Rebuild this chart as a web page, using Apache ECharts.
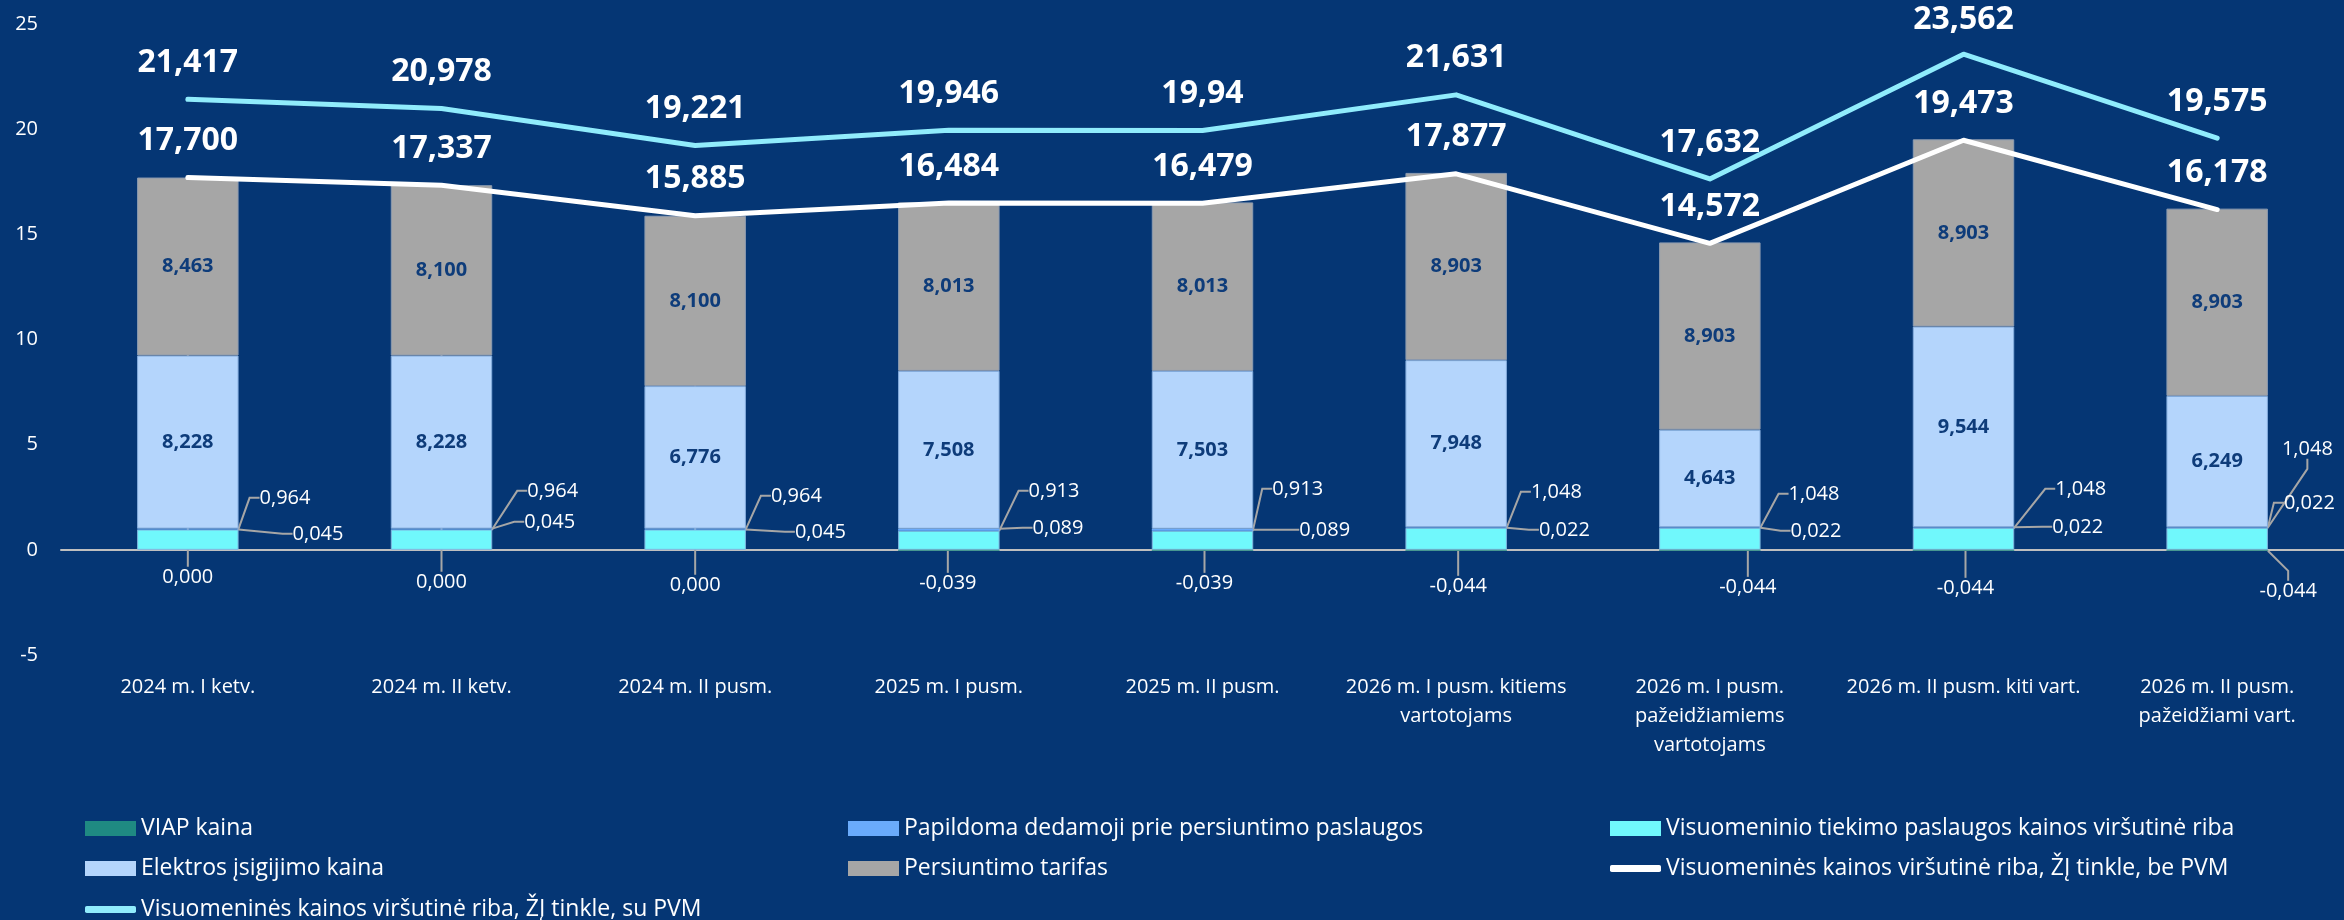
<!DOCTYPE html>
<html>
<head>
<meta charset="utf-8">
<script src="https://cdn.jsdelivr.net/npm/echarts@6/dist/echarts.min.js"></script>
<style>
html,body{margin:0;padding:0;background:#053674;}
#c{width:2344px;height:920px;}
</style>
</head>
<body>
<div id="c"></div>
<script>
// ---- data ----
const categories = [
  '2024 m. I ketv.',
  '2024 m. II ketv.',
  '2024 m. II pusm.',
  '2025 m. I pusm.',
  '2025 m. II pusm.',
  '2026 m. I pusm. kitiems\nvartotojams',
  '2026 m. I pusm.\npažeidžiamiems\nvartotojams',
  '2026 m. II pusm. kiti vart.',
  '2026 m. II pusm.\npažeidžiami vart.'
];
const viapKaina = [0.000, 0.000, 0.000, -0.039, -0.039, -0.044, -0.044, -0.044, -0.044];
const papildomaDedamoji = [0.045, 0.045, 0.045, 0.089, 0.089, 0.022, 0.022, 0.022, 0.022];
const tiekimoRiba = [0.964, 0.964, 0.964, 0.913, 0.913, 1.048, 1.048, 1.048, 1.048];
const elektrosKaina = [8.228, 8.228, 6.776, 7.508, 7.503, 7.948, 4.643, 9.544, 6.249];
const persiuntimoTarifas = [8.463, 8.100, 8.100, 8.013, 8.013, 8.903, 8.903, 8.903, 8.903];
const ribaBePVM = [17.700, 17.337, 15.885, 16.484, 16.479, 17.877, 14.572, 19.473, 16.178];
const ribaSuPVM = [21.417, 20.978, 19.221, 19.946, 19.94, 21.631, 17.632, 23.562, 19.575];
const yTicks = {min: -5, max: 25, interval: 5};

// ---- label placement (styling, px offsets) ----
const tiekDX = [21, 35, 25, 29, 19, 24, 28, 41, 14];
const tiekDY = [-52, -59, -54, -59, -61, -58, -56, -61, -101];
const papDX = [54, 32, 49, 33, 46, 32, 30, 38, 16];
const papDY = [-16, -28, -18, -22, -20, -20, -19, -23, -47];
const viapDX = [0, 0, 0, -1, 2, 2, 38, 2, 71];
const viapDY = [27, 32, 35, 33, 33, 36, 37, 38, 41];

const FONT = 'Open Sans';
const GRID = {left: 61, top: 24, width: 2288, height: 631};
const zeroY = GRID.top + GRID.height * yTicks.max / (yTicks.max - yTicks.min);

const fmt3 = v => Number(v).toFixed(3).replace('.', ',');
const fmtGen = v => String(v).replace('.', ',');

const C = {
  viap: '#1F8A82',
  pap: '#6AABFB',
  tiek: '#70F8FC',
  elek: '#B4D5FC',
  pers: '#A6A6A6',
  be: '#FFFFFF',
  su: '#90ECFC'
};

const leader = {show: true, length2: 10, lineStyle: {color: '#A6A6A6', width: 2}};
const smallLabel = {show: true, color: '#FFFFFF', fontFamily: FONT, fontSize: 20};

const chart = echarts.init(document.getElementById('c'), null, {renderer: 'canvas'});

function legendAt(left, top, item) {
  return {
    left: left, top: top, orient: 'horizontal',
    itemWidth: 51, itemHeight: item.line ? 7 : 15,
    textStyle: {color: '#FFFFFF', fontFamily: FONT, fontSize: 23},
    selectedMode: false,
    itemStyle: {borderWidth: 0, borderColor: 'transparent'},
    lineStyle: {width: 0},
    data: [{name: item.name, icon: item.line ? 'roundRect' : 'rect',
      itemStyle: {color: item.color, borderWidth: 0, borderColor: 'transparent'}}]
  };
}

const names = {
  viap: 'VIAP kaina',
  pap: 'Papildoma dedamoji prie persiuntimo paslaugos',
  tiek: 'Visuomeninio tiekimo paslaugos kainos viršutinė riba',
  elek: 'Elektros įsigijimo kaina',
  pers: 'Persiuntimo tarifas',
  be: 'Visuomeninės kainos viršutinė riba, ŽĮ tinkle, be PVM',
  su: 'Visuomeninės kainos viršutinė riba, ŽĮ tinkle, su PVM'
};

const option = {
  backgroundColor: '#053674',
  animation: false,
  textStyle: {fontFamily: FONT},
  legend: [
    legendAt(80, 812, {name: names.viap, color: C.viap}),
    legendAt(843, 812, {name: names.pap, color: C.pap}),
    legendAt(1605, 812, {name: names.tiek, color: C.tiek}),
    legendAt(80, 852, {name: names.elek, color: C.elek}),
    legendAt(843, 852, {name: names.pers, color: C.pers}),
    legendAt(1605, 852, {name: names.be, color: C.be, line: true}),
    legendAt(80, 893, {name: names.su, color: C.su, line: true})
  ],
  grid: GRID,
  xAxis: [
    {
      type: 'category', data: categories,
      axisLine: {show: false, onZero: false},
      axisTick: {show: false},
      axisLabel: {color: '#FFFFFF', fontFamily: FONT, fontSize: 20, lineHeight: 29, margin: 18, interval: 0}
    },
    {
      type: 'category', data: categories, position: 'bottom',
      axisLine: {show: true, onZero: true, lineStyle: {color: '#BFBFBF', width: 2}},
      axisTick: {show: false},
      axisLabel: {show: false}
    }
  ],
  yAxis: {
    type: 'value', min: yTicks.min, max: yTicks.max, interval: yTicks.interval,
    axisLine: {show: false}, axisTick: {show: false}, splitLine: {show: false},
    axisLabel: {color: '#FFFFFF', fontFamily: FONT, fontSize: 20, margin: 23}
  },
  series: [
    {
      name: names.tiek, type: 'bar', stack: 's', data: tiekimoRiba, barWidth: '40%',
      itemStyle: {color: C.tiek, borderColor: '#7FB6E0', borderWidth: 1},
      label: Object.assign({}, smallLabel, {formatter: p => fmt3(p.value)}),
      labelLine: leader,
      labelLayout: p => ({x: p.rect.x + p.rect.width + tiekDX[p.dataIndex], y: zeroY + tiekDY[p.dataIndex], align: 'left', verticalAlign: 'middle'})
    },
    {
      name: names.pap, type: 'bar', stack: 's', data: papildomaDedamoji,
      itemStyle: {color: C.pap},
      label: Object.assign({}, smallLabel, {formatter: p => fmt3(p.value)}),
      labelLine: leader,
      labelLayout: p => ({x: p.rect.x + p.rect.width + papDX[p.dataIndex], y: zeroY + papDY[p.dataIndex], align: 'left', verticalAlign: 'middle'})
    },
    {
      name: names.elek, type: 'bar', stack: 's', data: elektrosKaina,
      itemStyle: {color: C.elek, borderColor: '#85ADDD', borderWidth: 1},
      label: {show: true, position: 'inside', color: '#0E3C7A', fontFamily: FONT, fontSize: 20, fontWeight: 'bold', formatter: p => fmt3(p.value)}
    },
    {
      name: names.pers, type: 'bar', stack: 's', data: persiuntimoTarifas,
      itemStyle: {color: C.pers, borderColor: '#8C9BB0', borderWidth: 1},
      label: {show: true, position: 'inside', color: '#0E3C7A', fontFamily: FONT, fontSize: 20, fontWeight: 'bold', formatter: p => fmt3(p.value)}
    },
    {
      name: names.viap, type: 'bar', stack: 's', data: viapKaina,
      itemStyle: {color: C.viap},
      label: Object.assign({}, smallLabel, {position: 'bottom', formatter: p => fmt3(p.value)}),
      labelLine: leader,
      labelLayout: p => ({x: p.rect.x + p.rect.width / 2 + viapDX[p.dataIndex], y: zeroY + viapDY[p.dataIndex], align: 'center', verticalAlign: 'middle'})
    },
    {
      name: names.be, type: 'line', data: ribaBePVM, symbol: 'circle', symbolSize: 1, showSymbol: true, z: 5,
      lineStyle: {color: C.be, width: 5, cap: 'round', join: 'round'},
      itemStyle: {color: C.be},
      label: {show: true, position: 'top', distance: 20, color: '#FFFFFF', fontFamily: FONT, fontSize: 32, fontWeight: 'bold', formatter: p => fmt3(p.value)}
    },
    {
      name: names.su, type: 'line', data: ribaSuPVM, symbol: 'circle', symbolSize: 1, showSymbol: true, z: 5,
      lineStyle: {color: C.su, width: 5, cap: 'round', join: 'round'},
      itemStyle: {color: C.su},
      label: {show: true, position: 'top', distance: 20, color: '#FFFFFF', fontFamily: FONT, fontSize: 32, fontWeight: 'bold', formatter: p => fmtGen(p.value)},
      labelLayout: p => (p.labelRect.y < 4 ? {dy: 4 - p.labelRect.y} : {})
    }
  ]
};
chart.setOption(option);
</script>
</body>
</html>
